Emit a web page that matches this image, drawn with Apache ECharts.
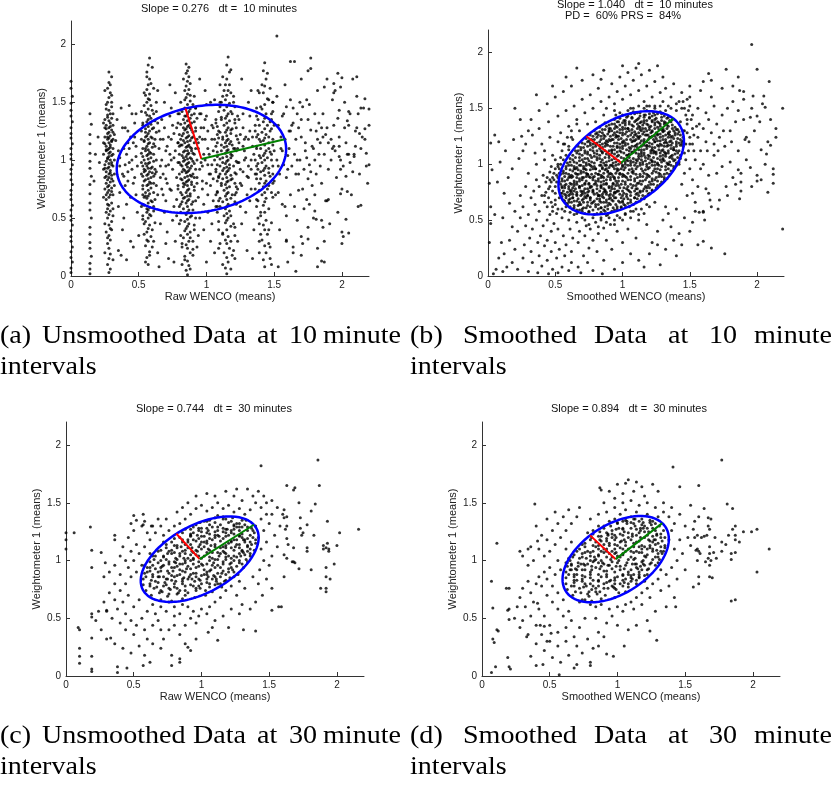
<!DOCTYPE html>
<html>
<head>
<meta charset="utf-8">
<script src="https://cdn.jsdelivr.net/npm/echarts@6/dist/echarts.min.js"></script>
<style>
  html, body { margin: 0; padding: 0; background: #fff; }
  #chart { width: 835px; height: 788px; }
</style>
</head>
<body>
<div id="chart"></div>
<script>
// scatter points, in hundredths, flat x,y pairs
const rawPts10 = [
  0,3, 0,7, 1,12, 0,16, 0,21, 1,25, 0,30, 0,34, 0,39, 1,44, 0,48, 0,52, 0,57, 1,61, 0,66, 0,70, 0,74, 1,79, 0,83, 0,88, 0,92, 1,96, 0,101, 0,105, 0,110, 1,114, 0,119, 0,123, 0,128, 1,133, 0,138, 0,143, 0,149, 1,155, 0,162, 0,168,
  14,2, 14,6, 14,11, 15,17, 14,24, 14,29, 14,36, 14,42, 15,50, 14,57, 14,63, 14,71, 14,79, 15,86, 14,93, 14,99, 14,106, 14,114, 14,122, 15,131, 14,140, 18,105, 17,82, 20,120, 21,98,
  28,3, 29,6, 27,10, 28,15, 29,19, 28,24, 27,28, 29,31, 28,35, 26,38, 29,41, 28,44, 30,47, 27,50, 28,53, 29,56, 27,58, 28,61, 30,63, 26,66, 28,68, 29,70, 27,72, 28,74, 30,76, 28,78, 26,80, 29,81, 27,83, 28,85, 30,87, 28,88, 26,90, 29,91, 27,93, 28,94, 30,96, 28,97, 26,99, 29,100, 27,101, 28,103, 30,104, 28,106, 29,107, 27,109, 28,110, 26,112, 29,113, 28,115, 30,116, 27,118, 28,119, 29,121, 27,123, 28,124, 30,126, 28,128, 26,130, 29,132, 28,134, 27,137, 29,140, 28,143, 30,146, 27,150, 28,154, 29,158, 27,162, 28,167, 30,172, 28,176, 25,120, 31,95, 25,85, 31,130, 24,105, 32,78,
  25,45, 31,52, 24,68, 32,88, 25,96, 31,110, 24,115, 32,122, 25,128, 31,140, 26,148, 30,156, 25,75, 31,70, 24,92, 32,100, 26,108, 30,84, 25,135, 31,118,
  26,70, 30,73, 27,77, 31,82, 26,86, 29,89, 25,93, 30,98, 27,102, 31,105, 26,109, 29,111, 25,114, 30,117, 27,120, 31,124, 26,127, 29,129, 24,132, 30,136, 27,139, 26,144, 30,150, 25,160, 29,165, 27,62, 31,58, 26,55, 30,40, 27,33, 25,20, 31,14,
  35,22, 38,40, 41,62, 44,30, 47,85, 36,95, 39,110, 42,125, 45,140, 48,70, 34,135, 37,145, 40,78, 43,98, 46,115, 49,55, 35,60, 38,88, 41,105, 44,120, 47,132, 36,72, 39,50, 42,90, 45,100, 48,112, 50,35, 37,18, 40,128, 43,147, 46,80, 49,95, 33,117, 41,14, 46,25, 38,128, 44,68, 48,140, 35,108, 42,82,
  45,92, 48,103, 40,96, 43,110, 39,86, 47,120, 36,102, 42,115,
  57,10, 56,16, 58,21, 55,26, 57,30, 59,34, 56,38, 57,41, 58,44, 55,47, 57,50, 59,52, 56,55, 57,57, 58,59, 54,61, 57,63, 59,65, 56,67, 57,69, 58,71, 55,72, 57,74, 59,76, 56,78, 57,79, 58,81, 54,82, 57,84, 59,85, 56,87, 57,88, 58,90, 55,91, 57,93, 60,94, 56,95, 57,97, 58,98, 54,100, 57,101, 59,102, 56,104, 57,105, 58,107, 55,108, 57,109, 60,111, 56,112, 57,114, 58,115, 54,117, 57,118, 59,120, 56,121, 57,123, 58,125, 55,127, 57,129, 59,131, 56,133, 57,135, 58,138, 55,141, 57,144, 59,147, 56,150, 57,153, 58,157, 56,161, 57,165, 58,170, 56,176, 57,182, 58,188, 53,95, 61,105, 52,125, 61,80, 53,70, 62,118, 52,88, 61,140, 54,45, 60,25,
  52,60, 62,66, 53,78, 62,88, 52,98, 63,100, 53,110, 62,112, 52,118, 63,124, 53,130, 62,134, 52,142, 63,150, 54,158, 61,162, 53,86, 62,92, 52,106, 63,78, 54,68, 61,56, 53,52, 62,46, 54,36, 61,30, 55,120, 60,127, 54,92, 60,89,
  53,62, 60,64, 55,69, 61,72, 53,75, 59,80, 55,83, 61,86, 54,90, 59,93, 55,97, 61,99, 53,103, 59,106, 55,110, 61,114, 54,116, 60,119, 55,124, 61,128, 53,132, 59,136, 56,139, 60,143, 54,147, 58,152, 55,156, 59,166, 56,172, 60,180, 58,18, 55,12, 56,31, 60,40, 53,49, 58,53, 61,60, 56,58,
  64,20, 66,45, 68,70, 70,95, 72,120, 74,145, 76,60, 78,85, 65,110, 67,135, 69,55, 71,80, 73,105, 75,130, 77,30, 79,115, 63,90, 65,125, 67,100, 69,150, 71,38, 73,75, 75,92, 77,108, 79,140, 64,160, 66,85, 68,118, 70,65, 72,15, 74,100, 76,123, 78,52, 80,98, 63,142, 67,75, 71,112, 75,48, 79,78, 69,128, 73,165, 77,158, 65,8, 70,28, 76,12,
  66,95, 70,108, 74,118, 78,128, 64,132, 68,88, 72,96, 76,102, 80,112, 66,118, 70,84, 74,74, 78,66, 64,70, 73,138,
  86,1, 85,5, 87,9, 86,13, 84,17, 88,20, 86,24, 85,27, 87,30, 83,33, 86,36, 88,38, 85,41, 86,43, 87,45, 84,47, 86,49, 88,51, 85,53, 86,55, 87,57, 83,58, 86,60, 89,62, 85,63, 86,65, 87,66, 84,68, 86,69, 88,71, 85,72, 86,74, 87,75, 83,77, 86,78, 89,79, 85,81, 86,82, 87,83, 84,85, 86,86, 88,87, 85,89, 86,90, 87,91, 83,92, 86,94, 89,95, 85,96, 86,97, 87,98, 84,100, 86,101, 88,102, 85,103, 86,105, 87,106, 83,107, 86,108, 89,110, 85,111, 86,112, 87,113, 84,115, 86,116, 88,117, 85,119, 86,120, 87,121, 83,123, 86,124, 89,126, 85,127, 86,129, 87,130, 84,132, 86,134, 88,136, 85,138, 86,140, 87,142, 84,145, 86,148, 88,151, 85,154, 86,157, 87,161, 85,164, 86,168, 87,172, 86,177, 85,183, 82,95, 91,105, 81,118, 91,85, 82,70, 92,125, 81,55, 91,140, 90,30, 82,10,
  80,60, 92,65, 79,75, 93,80, 80,88, 92,92, 79,98, 93,100, 80,105, 92,110, 79,115, 93,118, 80,122, 92,128, 79,132, 93,136, 80,140, 92,145, 81,150, 91,155, 80,45, 92,50, 81,35, 91,40, 82,25, 90,18, 83,80, 89,86, 82,90, 90,99, 83,102, 89,108, 82,113, 90,120, 83,128, 89,132, 84,138, 88,144, 81,84, 91,74, 82,64, 90,57, 84,160, 88,166, 85,175, 87,180,
  81,62, 90,64, 83,67, 88,69, 81,72, 91,77, 84,79, 89,81, 82,83, 90,88, 84,91, 88,93, 81,96, 91,97, 83,99, 89,101, 82,104, 90,106, 84,108, 88,111, 81,113, 91,115, 83,117, 89,119, 82,121, 90,124, 84,126, 88,128, 81,131, 91,133, 83,135, 89,139, 82,142, 90,148, 84,152, 88,156, 83,170, 89,52, 81,48, 91,44, 84,39, 88,33, 82,28, 90,23, 84,14, 88,6,
  93,25, 95,50, 97,75, 99,100, 101,125, 103,150, 105,65, 107,90, 94,115, 96,140, 98,40, 100,80, 102,105, 104,130, 106,20, 108,115, 93,85, 95,120, 97,95, 99,160, 101,55, 103,78, 105,108, 107,135, 94,68, 96,98, 98,128, 100,12, 102,88, 104,45, 106,152, 108,72, 95,170, 99,135, 103,30, 107,60, 92,145, 100,148, 104,96, 97,118, 101,110, 105,84, 94,35, 98,62, 106,118,
  95,92, 98,105, 101,96, 104,118, 96,128, 100,138, 103,88, 106,100, 94,110, 97,82, 101,70, 105,128, 99,118, 95,140,
  115,2, 114,7, 116,12, 115,16, 113,20, 117,24, 115,28, 114,31, 116,34, 112,37, 115,40, 118,43, 114,46, 115,48, 116,50, 113,52, 115,54, 117,56, 114,58, 115,60, 116,62, 112,64, 115,66, 118,67, 114,69, 115,71, 116,72, 113,74, 115,76, 117,77, 114,79, 115,81, 116,82, 112,84, 115,85, 118,87, 114,88, 115,90, 116,91, 113,93, 115,94, 117,96, 114,97, 115,99, 116,100, 112,102, 115,103, 118,105, 114,106, 115,108, 116,109, 113,111, 115,112, 117,114, 114,115, 115,117, 116,118, 112,120, 115,121, 118,123, 114,124, 115,126, 116,128, 113,130, 115,132, 117,134, 114,136, 115,138, 116,140, 113,143, 115,146, 117,149, 114,152, 115,156, 116,160, 114,165, 115,170, 117,176, 115,182, 116,189, 110,95, 120,110, 109,125, 121,80, 110,60, 121,135, 109,85, 120,45, 111,150, 119,18,
  108,55, 122,62, 107,70, 123,75, 108,82, 122,88, 107,92, 123,98, 108,103, 122,108, 107,112, 123,118, 108,122, 122,128, 107,132, 123,138, 109,142, 121,146, 110,150, 120,155, 109,40, 121,35, 110,28, 120,22, 111,78, 119,84, 112,98, 118,102, 111,108, 119,113, 112,118, 118,126, 111,135, 119,140, 113,160, 117,165, 112,172, 118,178, 110,88, 120,95, 109,65, 121,70,
  108,60, 121,64, 110,67, 119,70, 108,73, 122,77, 111,80, 118,83, 109,86, 121,89, 112,91, 117,93, 108,96, 122,99, 110,101, 119,104, 108,107, 121,110, 111,113, 118,116, 109,119, 122,121, 110,124, 119,127, 108,129, 121,132, 111,137, 118,142, 110,146, 120,150, 112,155, 118,158, 110,165, 118,52, 109,47, 121,42, 112,36, 118,30, 109,24, 121,15, 112,10, 118,6,
  123,30, 125,60, 127,90, 129,120, 131,150, 133,75, 135,105, 124,135, 126,45, 128,100, 130,70, 132,125, 134,15, 136,88, 123,110, 125,80, 127,140, 129,55, 131,95, 133,160, 135,40, 124,98, 128,118, 132,65, 136,130, 126,170, 130,22, 134,112, 122,72, 137,95, 127,112, 131,85, 125,122, 129,102, 133,92,
  125,92, 128,108, 131,118, 127,128, 133,100, 130,86, 126,78, 132,138, 124,115, 134,120,
  143,8, 142,14, 144,20, 143,26, 141,31, 145,36, 143,40, 142,44, 144,48, 140,52, 143,55, 146,58, 142,61, 143,64, 144,67, 141,70, 143,72, 145,75, 142,77, 143,80, 144,82, 140,84, 143,87, 146,89, 142,91, 143,93, 144,95, 141,98, 143,100, 145,102, 142,104, 143,106, 144,108, 140,110, 143,113, 146,115, 142,117, 143,119, 144,122, 141,124, 143,127, 145,130, 142,133, 143,136, 144,140, 141,144, 143,148, 145,153, 142,158, 143,164, 144,170, 142,177, 143,184, 138,92, 148,105, 137,120, 149,80, 138,65, 148,135, 139,45, 149,150, 147,25, 138,160,
  137,60, 149,68, 136,75, 150,82, 137,88, 149,95, 136,100, 150,108, 137,112, 149,118, 136,125, 150,130, 138,135, 148,140, 137,145, 149,150, 139,80, 147,86, 140,102, 146,110, 139,118, 147,125, 140,55, 146,40, 139,30, 147,15, 141,165, 145,175,
  137,66, 148,72, 139,74, 146,78, 137,84, 149,88, 140,90, 146,93, 138,97, 148,100, 139,104, 147,107, 137,110, 149,113, 140,116, 146,120, 138,122, 148,127, 139,130, 147,133, 137,138, 149,142, 140,146, 146,152, 139,158, 147,162, 138,50, 148,46, 140,36, 146,28, 139,20, 148,10,
  151,70, 153,95, 155,120, 157,140, 159,85, 161,110, 163,130, 165,60, 167,100, 169,150, 171,75, 173,115, 175,135, 177,90, 179,50, 181,125, 183,105, 185,80, 152,155, 154,40, 156,108, 158,165, 160,92, 162,125, 164,20, 166,118, 168,88, 170,135, 172,58, 174,102, 176,148, 178,112, 180,70, 182,160, 184,95, 186,140, 188,65, 190,115, 192,100, 194,130, 196,85, 198,120, 200,75, 202,150, 204,105, 206,140, 208,90, 210,125, 212,60, 214,110, 216,145, 218,95, 220,130, 187,30, 191,45, 195,160, 199,100, 203,115, 207,70, 211,155, 215,120, 219,80, 189,170, 193,110, 197,55, 201,95, 205,130, 209,105, 213,88, 217,118, 162,185, 170,170, 197,175, 170,18, 182,8, 200,38, 153,8, 175,42, 185,48, 208,170, 158,60, 164,145, 176,62, 180,100, 188,122, 194,112, 202,128, 206,98, 212,140, 159,30, 167,48, 177,188, 152,207,
  152,100, 155,110, 158,118, 161,125, 164,132, 167,140, 170,120, 173,108, 176,96, 179,110, 182,118, 185,128, 154,88, 157,96, 160,104, 163,95, 166,88, 169,100, 172,92, 175,84, 178,78, 181,88, 184,115, 187,105, 190,92, 153,130, 156,138, 159,146, 162,152, 165,105, 168,128, 171,146, 174,152, 177,126, 180,140, 183,132, 186,120, 189,128, 192,118, 195,108, 198,112, 153,72, 156,62, 159,52, 162,70, 168,74, 174,66, 180,56, 186,42, 171,28, 160,12,
  165,185, 177,179, 175,177, 200,171, 211,172, 194,166, 217,153, 220,144, 214,145, 220,96, 214,61, 205,37, 200,28, 201,34, 185,13, 187,12, 166,4, 182,24, 175,32, 170,34, 164,25, 159,31, 189,65, 190,66, 181,49, 203,49, 204,73, 199,71, 199,92, 203,86, 198,103, 205,105, 209,103, 210,112, 218,106, 213,123, 217,127, 211,128, 204,134, 197,136, 198,143, 205,142, 193,152, 194,158, 187,163, 199,163
];

const smoothPts10 = [
  72,56, 79,55, 84,57, 89,55, 75,57, 81,56, 87,58,
  66,59, 70,60, 75,58, 82,60, 86,59, 92,58, 96,60, 64,61, 68,59, 73,61, 78,59, 84,61, 89,60, 94,59, 99,61,
  61,62, 67,63, 71,61, 74,63, 80,62, 84,61, 89,63, 93,61, 99,62, 102,63, 59,64, 64,63, 69,64, 76,62, 82,64, 87,62, 91,64, 96,62, 101,64, 105,62,
  58,65, 62,66, 68,64, 71,66, 77,65, 80,64, 86,66, 90,65, 95,64, 98,66, 104,65, 108,64, 57,67, 60,66, 66,67, 74,66, 78,66, 83,67, 88,66, 93,67, 100,67, 106,66, 110,66, 113,67,
  56,68, 61,69, 64,67, 70,68, 73,70, 79,67, 83,69, 88,68, 91,70, 97,67, 101,69, 106,68, 111,69, 58,70, 63,70, 67,69, 71,69, 76,70, 81,69, 86,70, 90,69, 94,70, 99,70, 104,69, 109,70, 114,69, 116,69,
  55,71, 60,72, 63,70, 69,72, 72,71, 76,70, 82,72, 85,71, 91,73, 95,70, 100,72, 103,71, 109,70, 112,72, 117,71, 57,73, 61,73, 66,73, 70,73, 74,72, 79,73, 83,72, 88,73, 93,72, 98,73, 101,74, 106,72, 110,73, 115,72, 119,73,
  54,74, 59,75, 63,73, 66,75, 72,74, 75,76, 81,74, 85,73, 88,75, 94,74, 97,76, 103,73, 106,75, 111,74, 115,76, 120,74, 56,76, 61,76, 64,76, 69,76, 74,75, 78,76, 83,76, 87,76, 91,76, 95,75, 100,76, 105,76, 109,76, 113,75, 118,76, 122,76,
  53,77, 57,79, 62,77, 65,78, 71,76, 74,78, 78,77, 84,79, 87,77, 92,78, 96,76, 101,79, 104,77, 110,78, 113,76, 118,79, 122,77, 55,79, 60,78, 63,79, 68,79, 72,78, 76,79, 81,78, 86,78, 90,79, 94,78, 98,79, 103,78, 107,79, 111,78, 116,78, 120,79, 125,79,
  55,80, 58,82, 64,81, 68,80, 72,82, 77,80, 81,81, 86,82, 90,80, 95,81, 99,82, 104,80, 108,81, 112,83, 117,80, 121,82, 126,81, 54,82, 57,81, 62,82, 66,82, 70,81, 75,82, 79,82, 84,81, 88,82, 93,82, 97,81, 102,82, 106,82, 110,81, 114,82, 119,81, 123,82, 128,82,
  53,84, 57,85, 61,83, 66,84, 70,86, 75,83, 80,85, 84,84, 88,86, 93,83, 97,85, 102,84, 106,86, 111,83, 115,85, 120,84, 124,86, 129,84, 55,85, 59,86, 64,85, 68,85, 73,85, 78,86, 82,85, 86,85, 91,86, 95,85, 100,85, 104,86, 109,85, 113,85, 117,86, 122,85, 126,85, 131,86,
  55,87, 60,88, 63,89, 68,87, 73,89, 76,88, 82,87, 85,89, 91,88, 94,87, 100,89, 103,88, 109,87, 113,89, 118,88, 122,87, 127,89, 131,88, 57,89, 61,89, 66,88, 71,88, 75,89, 79,89, 84,88, 89,89, 93,89, 97,88, 102,89, 106,89, 111,88, 115,89, 120,89, 125,88, 129,89, 133,87,
  54,91, 58,92, 62,90, 67,91, 71,93, 74,91, 80,92, 84,90, 89,93, 92,91, 98,92, 101,90, 107,93, 110,91, 116,92, 119,90, 125,93, 128,91, 133,92, 56,92, 60,91, 65,92, 69,92, 73,92, 77,91, 82,91, 86,92, 91,92, 95,92, 100,91, 104,92, 108,92, 113,91, 118,91, 122,92, 127,92, 131,91, 135,91,
  56,94, 61,95, 65,96, 69,94, 73,95, 78,96, 83,94, 87,95, 90,97, 96,94, 99,96, 105,95, 108,94, 114,96, 117,95, 123,94, 126,96, 132,95, 136,94, 58,96, 63,94, 67,95, 71,96, 76,95, 80,96, 85,96, 89,94, 94,96, 97,95, 101,95, 107,96, 110,96, 115,94, 119,96, 124,96, 128,95, 134,96, 138,96,
  58,98, 62,99, 66,97, 71,98, 75,100, 79,98, 85,97, 88,99, 93,98, 97,100, 102,97, 106,99, 111,98, 115,100, 120,97, 124,99, 129,98, 134,100, 138,98, 60,99, 64,98, 69,99, 73,99, 77,98, 83,99, 87,99, 91,99, 95,99, 100,98, 104,99, 109,99, 113,99, 118,98, 122,99, 127,99, 132,98, 136,99, 140,99,
  59,101, 64,102, 68,103, 73,101, 77,102, 81,104, 86,101, 90,103, 95,102, 99,101, 104,103, 108,102, 113,101, 117,103, 122,102, 126,101, 131,103, 135,102, 140,101, 61,102, 66,101, 71,102, 75,103, 79,101, 84,102, 88,102, 93,101, 97,103, 102,102, 106,101, 111,103, 115,102, 120,101, 124,102, 129,102, 133,101, 138,103, 142,102,
  61,105, 65,106, 70,104, 74,105, 79,107, 83,105, 87,106, 92,104, 96,107, 101,105, 105,106, 110,104, 114,107, 119,105, 123,106, 128,104, 132,107, 137,105, 141,106, 63,104, 68,106, 72,105, 77,106, 81,106, 85,104, 90,106, 94,105, 99,106, 103,104, 108,105, 112,105, 117,106, 121,104, 126,105, 130,105, 135,106, 139,104, 143,105,
  63,108, 68,109, 72,110, 76,108, 81,109, 85,110, 90,108, 94,109, 99,111, 103,108, 107,110, 112,109, 116,108, 121,110, 125,109, 130,108, 134,110, 139,109, 143,108, 66,110, 70,108, 74,109, 79,110, 83,108, 88,109, 92,110, 97,108, 101,110, 105,109, 110,110, 114,109, 119,108, 123,110, 128,110, 132,109, 137,108, 141,110,
  65,112, 69,113, 74,111, 78,112, 83,114, 87,112, 92,113, 96,111, 100,114, 105,112, 109,113, 114,111, 118,114, 123,112, 127,113, 131,111, 136,114, 140,112, 67,112, 72,112, 76,113, 81,112, 85,111, 90,112, 94,113, 98,112, 103,113, 107,111, 112,113, 116,113, 121,112, 125,111, 129,112, 134,112, 138,113, 142,112,
  67,116, 71,115, 76,117, 80,116, 85,115, 89,117, 93,116, 98,115, 102,117, 107,116, 111,115, 116,117, 120,116, 124,115, 129,117, 133,116, 138,115, 143,117, 69,115, 74,116, 78,115, 83,117, 87,116, 91,116, 96,116, 100,116, 105,115, 109,116, 114,116, 118,116, 122,115, 127,116, 131,116, 136,117, 140,116, 145,116,
  70,119, 74,120, 78,118, 83,120, 87,119, 91,121, 96,119, 100,120, 104,118, 109,121, 113,119, 118,120, 122,118, 126,121, 131,119, 135,120, 140,118, 144,120, 72,118, 76,119, 81,119, 85,118, 89,120, 94,119, 98,118, 102,119, 107,120, 111,118, 116,119, 120,119, 124,120, 128,118, 133,119, 137,119, 142,119,
  73,123, 77,122, 81,124, 86,123, 90,122, 95,124, 99,123, 103,122, 108,124, 112,123, 116,122, 121,124, 125,123, 130,122, 134,124, 138,123, 143,122, 75,121, 79,122, 84,122, 88,121, 93,122, 97,122, 101,121, 106,122, 110,122, 114,121, 119,122, 123,122, 128,121, 132,122, 136,121, 141,123, 145,121,
  76,126, 80,127, 84,125, 89,127, 93,126, 97,125, 102,127, 106,126, 111,125, 115,127, 119,126, 124,125, 128,127, 132,126, 137,125, 141,127, 78,125, 82,126, 87,125, 91,125, 95,126, 100,126, 104,125, 109,126, 113,125, 117,126, 122,125, 126,126, 130,125, 135,126, 139,126, 143,126,
  79,130, 83,129, 87,131, 92,130, 96,129, 100,131, 105,130, 109,129, 113,131, 118,130, 122,129, 127,131, 131,130, 135,129, 140,131, 81,128, 85,128, 90,129, 94,128, 98,128, 103,129, 107,128, 112,128, 116,129, 121,128, 125,128, 130,129, 134,128, 139,128, 142,129,
  83,133, 88,134, 91,132, 95,134, 100,133, 104,132, 108,134, 113,133, 117,132, 121,134, 126,133, 130,132, 134,134, 139,133, 85,131, 90,132, 94,132, 98,131, 102,132, 107,131, 111,132, 115,132, 120,131, 124,132, 129,131, 133,132, 137,132, 141,131,
  87,137, 92,136, 96,138, 100,137, 105,136, 109,138, 113,137, 118,136, 122,138, 127,137, 131,136, 136,138, 90,135, 94,136, 98,135, 102,135, 107,135, 111,136, 115,135, 119,135, 124,135, 128,136, 133,135, 137,135,
  94,140, 98,141, 102,139, 107,141, 111,140, 116,139, 120,141, 124,140, 129,139, 133,141, 137,140, 97,138, 101,139, 105,138, 110,139, 114,138, 118,139, 122,139, 126,138, 131,138, 135,139,
  100,144, 104,143, 109,145, 113,143, 117,144, 122,143, 126,145, 131,143, 103,142, 107,142, 112,141, 116,142, 120,142, 125,141, 129,142, 134,142,
  108,147, 113,146, 118,148, 123,146, 128,147, 106,145, 111,146, 116,144, 120,145, 124,144, 129,145,
  102,100, 106,103, 110,101, 114,104, 118,100, 122,103, 126,100, 130,104, 134,100, 104,108, 108,111, 112,107, 116,110, 120,107, 124,111, 128,107, 132,110, 136,107, 106,114, 110,117, 114,113, 118,117, 122,113, 126,117, 130,113, 134,117, 138,113, 108,121, 112,124, 116,120, 120,124, 124,120, 128,124, 132,120, 136,124, 140,120, 110,127, 114,130, 118,126, 122,130, 126,127, 130,130, 134,127, 138,130, 112,134, 116,137, 120,133, 124,137, 128,134, 132,137, 92,112, 96,115, 88,118, 92,122, 96,125, 100,119, 84,112, 80,118, 86,126, 90,130, 96,133, 100,128, 104,132, 102,137,
  58,72, 62,75, 66,72, 70,75, 74,72, 78,75, 82,72, 86,75, 90,72, 94,75, 60,80, 64,83, 68,80, 72,83, 76,80, 80,83, 84,80, 88,83, 92,80, 96,83, 62,88, 66,91, 70,88, 74,91, 78,88, 82,91, 86,88, 90,91, 94,88, 98,91, 64,96, 68,99, 72,96, 76,99, 80,96, 84,99, 88,96, 92,99, 96,96, 100,99, 60,68, 68,66, 76,68, 84,66, 92,68, 100,66,
  42,72, 45,78, 47,84, 49,86, 51,90, 53,92, 44,62, 47,66, 50,64, 53,70, 55,74, 51,56, 55,60, 58,62, 48,58, 43,75, 46,86, 50,96, 54,100, 56,104,
  48,76, 51,84, 49,92, 52,100, 54,106, 50,68, 46,80, 44,88, 47,98, 50,104, 53,96, 52,88, 55,112, 57,118, 59,124, 62,130, 66,136, 60,116, 63,122, 58,108,
  72,50, 78,52, 84,50, 90,52, 96,54, 102,56, 108,58, 114,60, 118,64, 75,46, 82,44, 88,48, 94,46, 100,50, 106,52, 112,55, 66,56, 70,58, 63,60, 61,57,
  146,130, 148,136, 147,144, 144,150, 150,124, 152,118, 149,112, 153,126, 155,134, 151,140, 149,148, 145,156, 140,154, 136,150, 132,148, 128,152, 124,150, 120,152, 116,150, 112,152, 108,150, 104,148, 98,146, 95,144, 143,138, 145,124, 147,118,
  45,70, 48,62, 50,74, 42,66, 38,58, 46,55, 52,60, 40,72, 35,64, 44,50, 49,47, 55,52, 57,58, 60,50, 52,42, 47,40, 41,45, 36,50, 33,42, 39,36, 44,32, 50,30, 56,36, 61,42, 64,55, 66,48, 70,52, 73,45, 68,40, 63,34, 58,28, 53,24, 47,22, 42,27, 37,30, 31,34, 28,45, 30,55, 34,76, 38,80, 43,84, 48,88, 50,80, 46,93, 41,90, 36,86, 32,70, 26,62, 24,52, 22,40, 27,28, 32,22, 38,18, 44,14, 51,16, 57,18, 62,22, 67,30, 72,36, 76,42, 80,48, 84,52, 88,54, 62,12, 55,8, 48,6, 40,9, 33,12, 26,16, 20,24, 16,32, 18,44, 20,58, 24,72, 28,80, 30,92, 36,100, 42,104, 48,108, 52,98, 18,12, 12,20, 10,30, 14,8, 22,6, 30,4, 37,3, 8,16, 6,6, 4,2, 11,4, 45,2, 52,3, 60,5, 67,8, 71,18, 75,25, 78,32, 82,38, 86,43, 91,46, 94,50, 98,52, 102,55, 106,58, 110,60, 96,40, 88,32, 81,22, 74,12, 69,3, 78,5, 86,14, 92,24, 100,30, 104,42, 112,50, 116,56, 120,62, 124,66, 118,46, 126,40, 110,34, 122,30, 132,24, 140,18, 128,10, 116,8, 100,12, 106,20, 94,6, 85,2,
  1,30, 2,47, 2,62, 1,83, 3,95, 2,119, 5,126, 7,84, 9,102, 12,74, 15,88, 13,112, 8,120, 18,96, 16,65, 5,55, 11,52, 19,122, 23,105, 26,112,
  28,118, 33,126, 38,132, 45,138, 52,143, 58,148, 64,152, 70,158, 76,162, 82,168, 40,118, 46,124, 54,128, 60,134, 66,140, 72,146, 78,150, 84,156, 35,110, 42,112, 56,118, 62,124, 68,130, 74,136, 32,140, 38,148, 44,154, 50,160, 56,165, 62,170, 70,175, 78,180, 86,184, 48,170, 58,178, 66,186, 30,130, 24,140, 20,150, 36,162, 52,120, 60,113, 25,125,
  88,150, 94,154, 100,158, 106,162, 112,166, 118,170, 124,174, 130,178, 136,160, 142,156, 146,150, 90,160, 96,165, 102,170, 108,175, 114,180, 120,184, 126,188, 132,168, 138,172, 144,164, 148,158, 92,172, 98,178, 104,182, 110,186, 116,156, 122,160, 128,164, 134,152, 140,148, 86,144, 80,138, 150,170, 112,190, 100,188, 124,152, 130,156, 94,148, 106,150, 118,152, 84,176,
  148,140, 152,132, 156,124, 150,118, 146,110, 154,104, 158,112, 162,120, 166,128, 170,136, 174,144, 168,152, 162,146, 156,150, 150,152, 148,128, 152,144, 160,132, 164,140, 172,124, 176,116, 180,130, 184,138, 178,150, 182,156, 186,148, 190,140, 160,100, 168,108, 174,98, 170,92, 164,90, 158,96, 150,96, 146,92, 152,86, 156,80, 162,78, 180,102, 186,112, 194,120, 198,130, 202,138, 192,104, 150,160, 158,166, 166,160, 174,168, 182,170, 190,158, 196,150, 204,154, 210,140, 214,132, 208,120, 206,100, 212,96, 200,90, 196,80, 188,92, 184,82, 178,72, 172,68, 166,62, 160,58, 154,66, 148,72, 144,82, 142,100, 144,118, 145,130, 147,104, 153,112, 157,136, 163,112, 168,118, 175,130, 181,120, 171,112,
  196,207, 177,185, 200,185, 186,178, 209,174, 160,174, 164,181, 166,175, 219,150, 187,166, 190,165, 197,161, 205,161, 195,142, 200,143, 206,151, 214,124, 219,42, 208,75, 212,83, 212,91, 200,85, 203,86, 195,97, 207,109, 203,113, 210,117, 192,124, 191,122, 188,84, 188,76, 187,69, 182,88, 186,95, 177,80, 171,60, 176,20, 166,25, 160,31, 156,28, 161,50, 160,57, 165,68, 164,74, 157,57, 154,58, 152,48, 152,74,
  130,50, 136,44, 142,38, 134,56, 140,60, 146,52, 150,40, 144,28, 120,20, 112,14, 126,28, 138,32, 132,62
];

const rawPts30 = [
  70,66, 78,65, 86,67,
  63,70, 69,72, 75,69, 82,71, 88,70, 95,68,
  59,74, 65,76, 71,73, 77,75, 84,74, 90,72, 96,76, 103,74, 108,73,
  57,79, 62,78, 68,81, 74,79, 80,77, 86,80, 92,79, 98,78, 104,81, 110,79, 115,77,
  57,84, 63,83, 69,86, 75,84, 81,82, 87,85, 93,84, 99,83, 105,86, 111,84, 117,82, 121,85,
  58,89, 64,88, 70,91, 76,89, 82,87, 88,90, 94,89, 100,87, 106,91, 112,89, 118,88, 124,90, 127,88,
  60,94, 66,93, 72,96, 78,94, 84,92, 90,95, 96,94, 102,92, 108,96, 114,94, 120,93, 126,95, 131,94,
  62,99, 68,98, 74,101, 80,99, 86,97, 92,100, 98,99, 104,97, 110,101, 116,99, 122,98, 128,100, 134,99,
  66,104, 72,103, 78,106, 84,104, 90,102, 96,105, 102,104, 108,102, 114,106, 120,104, 126,103, 132,105, 136,104,
  70,109, 76,108, 82,111, 88,109, 94,107, 100,110, 106,109, 112,107, 118,111, 124,109, 130,108, 136,110, 139,109,
  74,114, 80,113, 86,116, 92,114, 98,112, 104,115, 110,114, 116,112, 122,116, 128,114, 134,113, 140,115,
  80,119, 86,118, 92,121, 98,119, 104,117, 110,120, 116,119, 122,117, 128,121, 134,119, 140,118,
  86,124, 92,123, 98,126, 104,124, 110,122, 116,125, 122,124, 128,122, 134,126, 139,124,
  94,129, 100,128, 106,131, 112,129, 118,127, 124,130, 130,129, 137,128,
  104,134, 110,133, 116,136, 122,134, 128,132, 133,135,
  116,138, 123,137,
  73,81, 91,86, 107,92, 118,101, 97,108, 84,97, 125,112, 113,121, 102,116, 88,106, 79,91, 68,86, 95,82, 109,87, 121,97, 131,107, 119,127, 105,126, 93,111, 81,102, 71,95, 62,91, 76,76, 99,76, 115,89, 129,104, 137,114, 126,132, 112,139, 97,122, 85,112, 75,106, 65,101, 59,86, 67,77, 83,72, 103,70, 111,82, 123,92, 133,101, 101,96, 89,93, 113,104, 107,113, 94,101, 118,113, 124,118, 90,118, 100,125, 128,126, 109,98, 96,89, 86,84, 78,87, 104,84, 117,107, 131,118, 106,135, 99,133, 92,127,
  66,82, 72,86, 78,83, 84,88, 90,84, 96,86, 102,88, 108,84, 114,86, 120,90, 64,96, 70,100, 76,97, 82,101, 88,98, 94,97, 100,102, 106,100, 112,96, 118,103, 124,100, 130,97, 68,108, 74,111, 80,107, 86,108, 92,105, 98,104, 104,107, 110,112, 116,108, 122,111, 128,106, 134,108, 78,116, 84,120, 90,116, 96,117, 102,121, 108,118, 114,117, 120,122, 126,118, 132,116, 138,120, 88,127, 94,124, 100,121, 106,123, 112,126, 118,124, 124,127, 130,123, 136,122, 96,131, 102,134, 108,129, 114,131, 120,133, 126,129, 132,131, 62,80, 70,74, 76,71, 82,76, 88,74, 94,78, 100,80, 106,77, 112,80, 118,83, 124,86, 60,90, 58,96, 64,104, 72,116, 110,137, 118,136, 124,131, 130,135, 138,126, 80,94, 86,91, 92,93, 98,95, 104,90, 110,94, 116,97, 122,102, 128,111, 134,112, 105,110, 99,114, 93,108, 87,102, 81,98, 75,91,
  74,84, 80,86, 86,82, 92,88, 98,84, 104,88, 110,86, 116,91, 122,94, 128,98, 70,94, 76,99, 82,95, 88,100, 94,102, 100,97, 106,103, 112,101, 118,106, 124,104, 130,109, 136,106, 72,104, 78,109, 84,106, 90,111, 96,109, 102,112, 108,107, 114,111, 120,115, 126,114, 132,118, 82,113, 88,114, 94,118, 100,116, 106,119, 112,122, 118,121, 124,123, 130,120, 136,116, 92,122, 98,128, 104,128, 110,125, 116,128, 122,126, 128,129, 134,129, 68,90, 64,86, 62,94, 80,80, 72,78, 88,78, 96,74, 106,80, 114,80,
  142,120, 146,126, 150,132, 148,140, 144,146, 140,150, 136,144, 132,140, 128,145, 124,142, 120,148, 116,145, 112,150, 108,146, 104,143, 100,148, 96,145, 92,140, 88,136, 84,132, 80,130, 76,126, 72,122, 144,110, 148,116, 152,104, 156,112, 154,122, 158,130, 160,140, 156,146, 152,152, 146,156, 138,156, 130,152, 124,156, 118,160, 110,156, 104,158, 96,156, 90,150, 86,146, 82,142, 126,162, 134,162, 142,160, 148,150, 152,140, 144,136, 140,130, 146,100, 150,96, 143,92, 138,86, 142,80, 148,84, 152,76, 145,70, 140,64, 136,58, 130,62, 126,70, 132,76, 128,82, 122,78, 118,74, 114,68, 110,64, 106,60, 100,58, 94,56, 90,60, 86,62, 80,60, 84,54, 92,50, 98,52, 104,54, 110,48, 116,52, 122,58, 128,54, 120,42, 108,42, 96,46, 88,44, 80,52, 74,56, 70,60, 76,64,
  50,60, 54,66, 46,70, 42,64, 38,58, 44,54, 48,48, 52,44, 56,50, 60,56, 64,62, 66,54, 58,40, 50,36, 44,40, 40,46, 34,50, 30,56, 36,66, 40,74, 44,80, 48,86, 52,90, 46,94, 40,88, 36,80, 32,72, 28,64, 24,56, 22,48, 26,40, 30,32, 36,28, 42,24, 48,20, 54,26, 60,32, 64,44, 68,48, 70,40, 64,28, 58,18, 62,12, 70,24, 72,32, 76,40, 80,44, 84,36, 88,28, 92,22, 78,18, 84,12,
  50,100, 54,106, 58,112, 62,118, 66,124, 70,130, 74,136, 56,96, 44,100, 48,108, 52,114, 46,120, 40,104, 36,96, 32,90, 28,86, 60,124, 64,130, 68,136, 56,130, 50,126, 42,112, 62,106, 58,134, 48,132,
  6,124, 18,129, 19,109, 26,107, 29,98, 36,122, 36,118, 50,139, 57,140, 57,131, 63,130, 52,135, 19,94, 19,54, 19,51, 19,33, 19,17, 19,6, 19,4, 9,42, 10,40, 10,24, 10,17, 10,11, 30,57, 33,33, 38,8, 38,3, 45,7, 57,9, 78,9, 84,15, 90,25, 96,32, 112,31, 105,38, 131,40, 140,39, 144,182, 152,57, 157,60, 168,99, 0,118, 0,124, 0,110,
  186,187, 187,165, 163,165, 168,161, 169,163, 172,150, 184,149, 181,143, 193,134, 216,127, 202,124, 200,113, 198,97, 195,84, 192,86, 192,94, 188,76, 192,76, 192,73, 193,115, 194,110, 194,108, 190,110, 192,111, 190,113, 181,92, 178,111, 178,108, 183,122, 178,131, 173,137, 173,128, 175,124, 174,122, 172,93, 169,98, 167,99, 168,111, 164,114, 163,119, 162,127, 161,144, 159,60, 161,86, 161,105, 163,102, 161,137, 163,138, 163,130
];

const smoothPts30 = [
  74,66, 81,65, 88,67,
  67,70, 73,72, 79,69, 85,71, 91,70, 98,68,
  63,75, 69,73, 75,77, 81,75, 87,73, 93,76, 99,75, 106,73,
  62,80, 68,78, 74,82, 80,80, 86,78, 92,81, 98,80, 104,78, 110,82, 114,80,
  62,85, 68,83, 74,87, 80,85, 86,83, 92,86, 98,85, 104,83, 110,87, 116,85, 120,83,
  62,90, 68,88, 74,92, 80,90, 86,88, 92,91, 98,90, 104,88, 110,92, 116,90, 122,88,
  63,95, 69,93, 75,97, 81,95, 87,93, 93,96, 99,95, 105,93, 111,97, 117,95, 123,93, 128,96,
  65,100, 71,98, 77,102, 83,100, 89,98, 95,101, 101,100, 107,98, 113,102, 119,100, 125,98, 131,101,
  68,105, 74,103, 80,107, 86,105, 92,103, 98,106, 104,105, 110,103, 116,107, 122,105, 128,103, 133,106,
  72,110, 78,108, 84,112, 90,110, 96,108, 102,111, 108,110, 114,108, 120,112, 126,110, 132,108, 135,111,
  76,115, 82,113, 88,117, 94,115, 100,113, 106,116, 112,115, 118,113, 124,117, 130,115, 135,113,
  81,120, 87,118, 93,122, 99,120, 105,118, 111,121, 117,120, 123,118, 129,122, 135,120,
  87,125, 93,123, 99,127, 105,125, 111,123, 117,126, 123,125, 129,123, 134,126,
  95,130, 101,128, 107,132, 113,130, 119,128, 125,131, 131,130,
  107,134, 113,136, 119,133, 124,135,
  77,78, 95,83, 108,88, 119,97, 99,107, 86,98, 124,113, 114,122, 103,117, 90,107, 81,92, 70,88, 97,77, 111,84, 121,103, 129,109, 117,128, 104,127, 94,113, 83,103, 73,97, 65,92, 79,73, 101,72, 115,93, 127,118, 110,133, 96,123, 86,113, 76,107, 66,96, 68,81, 84,76, 105,81, 113,97, 96,103, 102,92, 88,95, 112,107, 106,113, 118,110, 92,119, 100,133, 126,121,
  70,83, 76,86, 82,83, 88,86, 94,82, 100,86, 106,84, 112,88, 118,92, 66,97, 72,102, 78,97, 84,101, 90,97, 96,99, 102,103, 108,101, 114,97, 120,104, 126,101, 130,98, 70,108, 76,112, 82,108, 88,108, 94,106, 100,104, 106,108, 112,112, 118,107, 124,111, 130,106, 80,118, 86,121, 92,117, 98,118, 104,122, 110,118, 116,117, 122,122, 128,118, 133,117, 90,128, 96,126, 102,123, 108,124, 114,127, 120,125, 126,128, 132,123, 100,132, 106,135, 112,132, 118,131, 124,133, 66,78, 72,76, 78,71, 84,73, 90,76, 96,78, 102,80, 108,77, 114,83, 120,87, 64,88, 63,98, 67,103, 74,114, 82,123, 88,121, 112,136, 120,130, 128,132, 84,94, 90,91, 96,93, 102,95, 108,90, 114,94, 120,96, 126,108, 132,112, 104,110, 98,114, 92,110, 86,104, 80,100, 76,92, 71,95,
  74,84, 80,88, 86,82, 92,88, 98,83, 104,87, 110,85, 116,88, 122,92, 70,92, 76,96, 82,99, 88,100, 94,96, 100,98, 106,96, 112,101, 118,99, 124,97, 130,103, 74,106, 80,104, 86,110, 92,108, 98,110, 104,106, 110,108, 116,112, 122,110, 128,114, 134,108, 84,116, 90,114, 96,120, 102,116, 108,120, 114,116, 120,120, 126,116, 132,120, 92,124, 98,122, 104,128, 110,128, 116,124, 122,128, 128,126, 104,134, 116,134, 68,86, 66,92, 64,102, 76,80, 82,78, 90,80, 98,76, 108,80, 116,86, 120,82,
  138,118, 140,126, 142,132, 138,138, 134,142, 130,138, 126,134, 122,140, 118,136, 114,142, 110,138, 106,144, 102,140, 98,136, 94,134, 90,130, 86,130, 82,126, 78,124, 142,110, 146,118, 148,106, 144,100, 140,94, 136,88, 132,92, 130,84, 126,80, 122,76, 118,72, 114,68, 110,64, 106,62, 100,60, 94,58, 88,62, 84,60, 80,62, 76,66, 72,64, 96,52, 104,56, 112,58, 118,62, 124,68, 132,74, 138,78, 144,84, 150,92, 128,146, 122,150, 116,148, 110,152, 104,150, 98,146, 92,142, 120,156, 112,160, 104,158, 98,154, 90,150, 86,140, 134,150, 140,146, 146,140, 150,130, 152,120, 130,160, 126,166, 118,164, 100,166, 94,160, 108,170, 80,136, 142,68, 136,60, 128,56, 122,48, 114,44, 108,40, 100,44, 92,46, 84,50,
  60,66, 56,72, 52,78, 48,84, 54,88, 58,92, 62,98, 56,100, 50,94, 46,90, 42,86, 44,78, 48,70, 52,64, 56,58, 60,52, 64,56, 66,48, 62,42, 56,38, 50,44, 46,52, 42,58, 38,64, 36,72, 40,80, 34,82, 30,76, 28,68, 32,60, 36,52, 40,44, 44,36, 50,30, 56,26, 62,30, 68,34, 70,26, 64,18, 58,12, 52,16, 46,22, 40,28, 34,36, 28,42, 24,50, 20,58, 26,60, 30,48, 72,42, 76,50, 78,32, 74,20, 82,24, 86,38, 90,34, 80,12, 70,10,
  50,108, 54,114, 58,120, 62,126, 66,132, 70,138, 46,104, 42,110, 48,118, 52,126, 56,132, 60,138, 38,100, 34,96, 30,104, 36,112, 44,122, 40,130, 48,136, 54,142, 64,144, 72,146, 62,110, 66,116,
  177,187, 160,165, 181,149, 185,145, 164,145, 154,148, 160,138, 167,137, 169,136, 157,134, 167,130, 168,127, 156,127, 159,122, 157,120, 162,120, 164,121, 166,122, 172,120, 187,130, 185,127, 187,122, 193,125, 199,125, 203,127, 187,118, 190,116, 182,122, 180,114, 177,116, 177,108, 168,112, 168,106, 171,107, 160,108, 159,110, 158,109, 154,113, 161,106, 159,100, 165,99, 167,102, 169,100, 168,96, 173,102, 184,106, 187,107, 184,101, 212,110, 203,90, 168,86, 170,85, 160,86, 160,80, 156,77, 184,65, 187,66,
  11,115, 7,82, 8,59, 8,32, 9,29, 11,40, 12,39, 10,8, 7,3, 19,57, 20,49, 18,76, 20,76, 19,16, 20,8, 21,6, 28,108, 39,149, 34,110, 41,117, 41,63, 33,34, 36,17, 40,9, 45,10, 48,30, 51,37, 46,43, 43,44, 57,1, 68,7, 80,9, 86,26, 92,19, 97,17, 105,26, 129,31, 124,39, 143,60, 146,164, 141,181, 87,163, 88,161, 114,168, 106,167
];

// fitted ellipse per panel: centre, end of green (major) axis, end of red (minor) axis
const ellipseCentre = [[0.963, 1.010], [0.990, 1.012], [0.987, 1.012], [0.987, 1.012]];
const majorEnd = [[1.577, 1.180], [1.378, 1.408], [1.387, 1.310], [1.331, 1.324]];
const minorEnd = [[0.845, 1.445], [0.731, 1.250], [0.815, 1.232], [0.798, 1.218]];

const panelTitles = [
  ['Slope = 0.276   dt =  10 minutes'],
  ['Slope = 1.040   dt =  10 minutes', 'PD =  60% PRS =  84%'],
  ['Slope = 0.744   dt =  30 minutes'],
  ['Slope = 0.894   dt =  30 minutes']
];
const xNames = ['Raw WENCO (means)', 'Smoothed WENCO (means)', 'Raw WENCO (means)', 'Smoothed WENCO (means)'];
const yName = 'Weightometer 1 (means)';
const tickValues = [0, 0.5, 1, 1.5, 2];
const captionWords = [
  ['(a)', 'Unsmoothed', 'Data', 'at', '10', 'minute'],
  ['(b)', 'Smoothed', 'Data', 'at', '10', 'minute'],
  ['(c)', 'Unsmoothed', 'Data', 'at', '30', 'minute'],
  ['(d)', 'Smoothed', 'Data', 'at', '30', 'minute']
];

const chart = echarts.init(document.getElementById('chart'));

const grids = [
  {left: 71, top: 21, width: 298, height: 255},
  {left: 488, top: 30, width: 296, height: 246},
  {left: 66, top: 422, width: 298, height: 254},
  {left: 482, top: 422, width: 298, height: 254}
];
const titlePos = [[[219, 9]], [[635, 5], [623, 16]], [[214, 409]], [[629, 409]]];
const captionX = [
  [0, 42, 193, 257, 289, 323],
  [410, 463, 594, 668, 709, 754],
  [0, 42, 193, 257, 289, 323],
  [410, 463, 594, 668, 709, 754]
];
const captionY = [336, 336, 736, 736];

function toPairs(flat) {
  const out = [];
  for (let i = 0; i < flat.length; i += 2) out.push([flat[i] / 100, flat[i + 1] / 100]);
  return out;
}

function ellipsePath(c, M, m) {
  const pts = [];
  for (let k = 0; k <= 160; k++) {
    const t = k / 160 * Math.PI * 2;
    pts.push([
      c[0] + Math.cos(t) * (M[0] - c[0]) + Math.sin(t) * (m[0] - c[0]),
      c[1] + Math.cos(t) * (M[1] - c[1]) + Math.sin(t) * (m[1] - c[1])
    ]);
  }
  return pts;
}

const font = '"Liberation Sans", Arial, sans-serif';
const serif = '26px "Liberation Serif", serif';
const pointSets = [rawPts10, smoothPts10, rawPts30, smoothPts30];

const xAxis = [], yAxis = [], series = [], graphic = [];
for (let i = 0; i < 4; i++) {
  const axisCommon = {
    gridIndex: i,
    type: 'value',
    min: 0,
    max: 2.2,
    axisLine: {show: true, onZero: false, lineStyle: {color: '#333', width: 1}},
    axisTick: {show: true, inside: true, length: 4, customValues: tickValues, lineStyle: {color: '#333'}},
    axisLabel: {customValues: tickValues, fontSize: 10, color: '#222', fontFamily: font},
    splitLine: {show: false},
    nameLocation: 'middle',
    nameTextStyle: {fontSize: 11, color: '#222', fontFamily: font}
  };
  xAxis.push(Object.assign({}, axisCommon, {
    name: xNames[i], nameGap: 15,
    axisLabel: Object.assign({}, axisCommon.axisLabel, {margin: 4})
  }));
  yAxis.push(Object.assign({}, axisCommon, {
    name: yName, nameGap: 24, nameRotate: 90,
    axisLabel: Object.assign({}, axisCommon.axisLabel, {margin: 5})
  }));

  series.push({
    type: 'scatter', xAxisIndex: i, yAxisIndex: i,
    data: toPairs(pointSets[i]),
    symbol: 'circle', symbolSize: 3,
    itemStyle: {color: '#000'},
    silent: true, z: 2
  });
  const c = ellipseCentre[i];
  series.push({
    type: 'line', xAxisIndex: i, yAxisIndex: i,
    data: ellipsePath(c, majorEnd[i], minorEnd[i]),
    showSymbol: false, clip: false, silent: true, z: 3,
    lineStyle: {color: '#0000ff', width: 2.5}
  });
  series.push({
    type: 'line', xAxisIndex: i, yAxisIndex: i,
    data: [c, minorEnd[i]],
    showSymbol: false, clip: false, silent: true, z: 4,
    lineStyle: {color: '#ff0000', width: 2}
  });
  series.push({
    type: 'line', xAxisIndex: i, yAxisIndex: i,
    data: [c, majorEnd[i]],
    showSymbol: false, clip: false, silent: true, z: 4,
    lineStyle: {color: '#008000', width: 2}
  });

  panelTitles[i].forEach((t, k) => {
    graphic.push({
      type: 'text', x: titlePos[i][k][0], y: titlePos[i][k][1],
      style: {text: t, font: '11px ' + font, fill: '#111',
        textAlign: 'center', textVerticalAlign: 'middle', align: 'center', verticalAlign: 'middle'}
    });
  });

  captionWords[i].forEach((w, k) => {
    graphic.push({
      type: 'text', x: captionX[i][k], y: captionY[i], scaleX: 1.08,
      style: {text: w, font: serif, fill: '#000',
        textAlign: 'left', textVerticalAlign: 'middle', align: 'left', verticalAlign: 'middle'}
    });
  });
  graphic.push({
    type: 'text', x: captionX[i][0], y: captionY[i] + 31, scaleX: 1.08,
    style: {text: 'intervals', font: serif, fill: '#000',
      textAlign: 'left', textVerticalAlign: 'middle', align: 'left', verticalAlign: 'middle'}
  });
}

chart.setOption({
  animation: false,
  backgroundColor: '#fff',
  grid: grids,
  xAxis: xAxis,
  yAxis: yAxis,
  series: series,
  graphic: graphic
});
</script>
</body>
</html>
